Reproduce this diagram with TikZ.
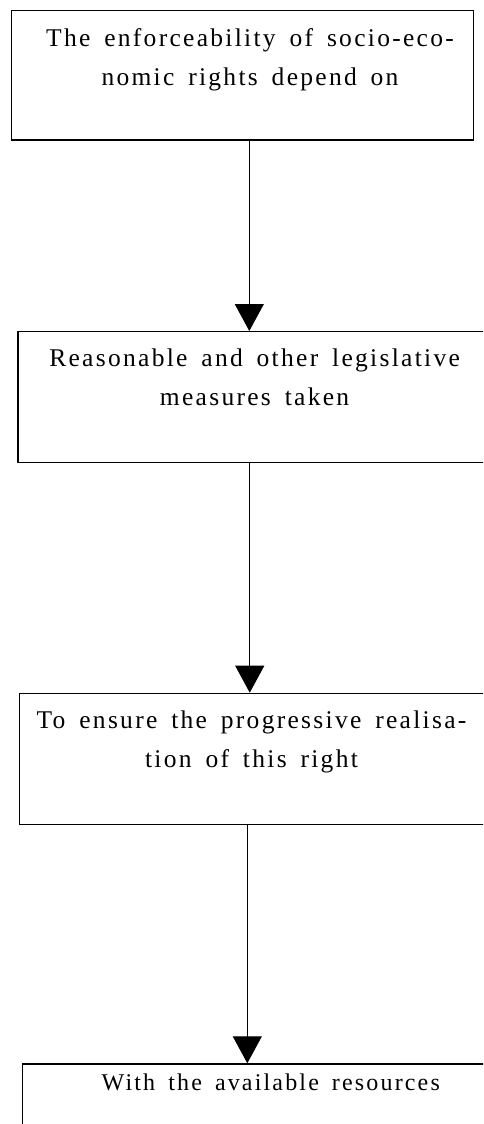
\documentclass[tikz,border=0pt]{standalone}
\usepackage{fontspec}
\setmainfont{Liberation Serif}[LetterSpace=9,WordSpace=1.6]
\usetikzlibrary{arrows.meta,calc}
\begin{document}
\begin{tikzpicture}[x=1pt,y=1pt,
  box/.style={draw=black, line width=1.2pt, rectangle, inner sep=0pt, anchor=north west},
  lbl/.style={align=center, anchor=base, inner sep=0pt, font=\fontsize{25.5}{39}\selectfont},
  arr/.style={draw=black, line width=1pt, -{Triangle[width=29pt,length=27pt]}}]
\useasboundingbox (0,0) rectangle (483,-1124);
\clip (0,0) rectangle (483,-1124);
\node[box, minimum width=462.2pt, minimum height=129.6pt] (b1) at (10.5,-9.7) {};
\node[box, minimum width=476pt, minimum height=131pt] (b2) at (17.3,-331) {};
\node[box, minimum width=471pt, minimum height=131.3pt] (b3) at (19,-692.7) {};
\node[box, minimum width=499pt, minimum height=120pt] (b4) at (21.7,-1063.3) {};
% base anchor of a two-line node is the baseline of its last line
\node[lbl] (t1) at (250,-85.7) {The enforceability of socio-eco-\\nomic rights depend on};
\node[lbl] (t2) at (254.6,-405) {Reasonable and other legislative\\measures taken};
\node[lbl] (t3) at (251.5,-767) {To ensure the progressive realisa-\\tion of this right};
\node[lbl, font=\fontsize{24}{39}\selectfont] (t4) at (270.8,-1090) {With the available resources};
\draw[arr] ([xshift=7.1pt]b1.south) -- ([xshift=7.1pt]b1.south |- b2.north);
\draw[arr] ([xshift=-6.15pt]b2.south) -- ([xshift=-6.15pt]b2.south |- b3.north);
\draw[arr] ([xshift=-7.8pt]b3.south) -- ([xshift=-7.8pt]b3.south |- b4.north);
\end{tikzpicture}
\end{document}
